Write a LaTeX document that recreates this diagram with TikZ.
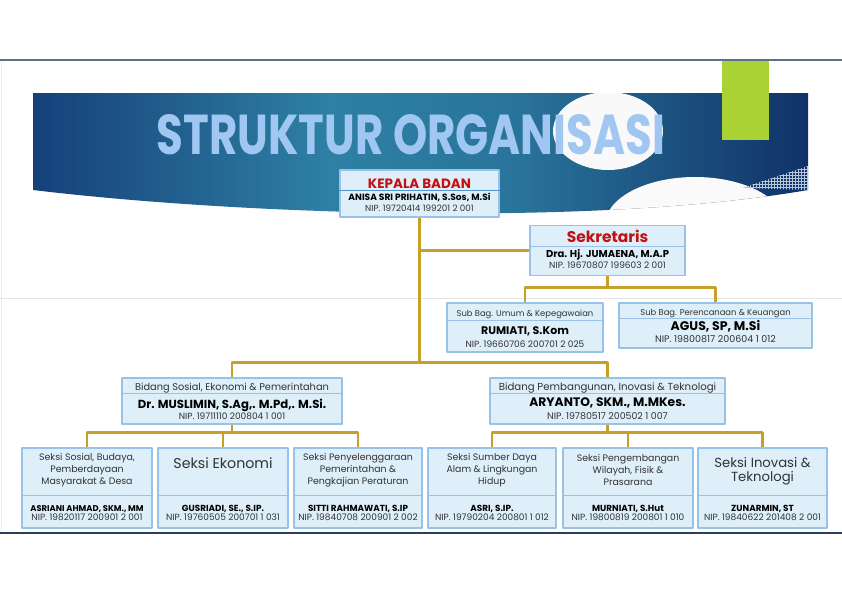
\documentclass[tikz,border=0pt]{standalone}
\usepackage{fontspec}
\usepackage{graphicx}
\setmainfont{Poppins}
\usetikzlibrary{patterns}

\definecolor{emas}{RGB}{198,160,42}
\definecolor{isi}{RGB}{222,239,250}
\definecolor{tepi}{RGB}{152,194,232}
\definecolor{birutepi}{RGB}{84,146,208}
\definecolor{merahtua}{RGB}{196,16,16}
\definecolor{abutua}{RGB}{50,50,50}
\definecolor{judulbiru}{RGB}{160,198,242}
\definecolor{navy}{RGB}{22,64,122}
\definecolor{navyb}{RGB}{16,50,104}
\definecolor{teal}{RGB}{46,128,164}
\definecolor{hijau}{RGB}{170,210,52}
\definecolor{garisatas}{RGB}{92,112,140}
\definecolor{garisbawah}{RGB}{44,62,92}

\pgfdeclarehorizontalshading{spanduk}{100bp}{color(0bp)=(navy); color(25bp)=(navy); color(44bp)=(teal); color(56bp)=(teal!85!navyb); color(75bp)=(navyb); color(100bp)=(navyb)}

\begin{document}
\begin{tikzpicture}[x=1pt,y=-1pt,line join=round,
    kotak/.style={draw=tepi, fill=isi, line width=1.1pt, inner sep=0pt},
    sekat/.style={draw=tepi, line width=1pt},
    konektor/.style={draw=emas, line width=2.3pt},
    teks/.style={inner sep=0pt, anchor=base},
    merah/.style={teks, text=merahtua, font=\fontsize{13.5}{14}\selectfont\bfseries},
    nama/.style={teks, font=\fontsize{8.8}{9}\selectfont\bfseries},
    nip/.style={teks, text=abutua, font=\fontsize{9}{9}\selectfont},
    bagian/.style={teks, text=abutua, font=\fontsize{8.4}{9}\selectfont},
    seksi/.style={inner sep=0pt, align=center, text=abutua, font=\fontsize{9.4}{12}\selectfont},
    seksibesar/.style={inner sep=0pt, align=center, text=abutua, font=\fontsize{13.2}{13.5}\selectfont}]

    % Latar belakang
    \useasboundingbox (0,0) rectangle (842,595);
    \fill[white] (0,0) rectangle (842,595);
    \draw[gray!15, line width=1pt] (1,60) -- (1,533);
    \draw[gray!20, line width=1pt] (0,298) -- (842,298);

    % Spanduk judul
    \shade[shading=spanduk]
      (33,93) -- (808,93) -- (808,190) .. controls (600,226) and (250,216) .. (33,190) -- cycle;
    \begin{scope}
      \clip (33,93) -- (808,93) -- (808,190) .. controls (600,226) and (250,216) .. (33,190) -- cycle;
      \fill[white!95!gray] (608,131) ellipse (55 and 39);
      \fill[white!96!gray] (695,225) ellipse (90 and 48);
      \fill[pattern=grid, pattern color=white!70!navy] (742,188) -- (808,166) -- (808,190) -- cycle;
    \end{scope}
    \fill[hijau] (722,60) rectangle (769,140);
    \draw[garisatas, line width=1.5pt] (0,60) -- (842,60);
    \draw[garisbawah, line width=1.5pt] (0,533) -- (842,533);
    \node[inner sep=0pt, text=judulbiru] (judul) at (411,135)
      {\resizebox{508pt}{40pt}{\bfseries STRUKTUR ORGANISASI}};

    % Kepala Badan
    \node[kotak, minimum width=159, minimum height=47] (kepala) at (419.5,193.5) {};
    \draw[draw=birutepi, line width=1pt] (kepala.west |- 0,190) -- (kepala.east |- 0,190);
    \node[merah] (kepalaJ) at (419.5,188) {KEPALA BADAN};
    \node[nama, font=\fontsize{9.1}{9}\selectfont\bfseries] (kepalaN) at (419.5,200) {ANISA SRI PRIHATIN, S.Sos, M.Si};
    \node[nip, font=\fontsize{8.8}{9}\selectfont] (kepalaP) at (419.5,211) {NIP.\ 19720414 199201 2 001};

    % Sekretaris
    \node[kotak, minimum width=155, minimum height=50] (sek) at (607.5,250.5) {};
    \draw[sekat] (sek.west |- 0,246) -- (sek.east |- 0,246);
    \node[merah, font=\fontsize{15.5}{16}\selectfont\bfseries] (sekJ) at (607.5,242) {Sekretaris};
    \node[nama, font=\fontsize{10}{11}\selectfont\bfseries] (sekN) at (607.5,257) {Dra. Hj. JUMAENA, M.A.P};
    \node[nip] (sekP) at (607.5,268) {NIP. 19670807 199603 2 001};

    % Sub Bagian
    \node[kotak, minimum width=156, minimum height=49] (umum) at (525,327.5) {};
    \draw[sekat] (umum.west |- 0,320) -- (umum.east |- 0,320);
    \node[bagian] (umumJ) at (525,316) {Sub Bag. Umum \& Kepegawaian};
    \node[nama, font=\fontsize{11}{11}\selectfont\bfseries] (umumN) at (525,334) {RUMIATI, S.Kom};
    \node[nip] (umumP) at (525,347) {NIP. 19660706 200701 2 025};

    \node[kotak, minimum width=193, minimum height=45] (renc) at (715.5,325.5) {};
    \draw[sekat] (renc.west |- 0,318) -- (renc.east |- 0,318);
    \node[bagian] (rencJ) at (715.5,315) {Sub Bag. Perencanaan \& Keuangan};
    \node[nama, font=\fontsize{12.5}{13}\selectfont\bfseries] (rencN) at (715.5,330) {AGUS, SP, M.Si};
    \node[nip, font=\fontsize{9.5}{9}\selectfont] (rencP) at (715.5,342) {NIP. 19800817 200604 1 012};

    % Bidang
    \node[kotak, minimum width=220, minimum height=46] (bidsos) at (232,401) {};
    \draw[sekat] (bidsos.west |- 0,393) -- (bidsos.east |- 0,393);
    \node[bagian, font=\fontsize{9.8}{10}\selectfont] (bidsosJ) at (232,390) {Bidang Sosial, Ekonomi \& Pemerintahan};
    \node[nama, font=\fontsize{11.7}{12}\selectfont\bfseries] (bidsosN) at (232,408) {Dr. MUSLIMIN, S.Ag,. M.Pd,. M.Si.};
    \node[nip] (bidsosP) at (232,419) {NIP. 19711110 200804 1 001};

    \node[kotak, minimum width=235, minimum height=46] (bidpem) at (607.5,401) {};
    \draw[sekat] (bidpem.west |- 0,393) -- (bidpem.east |- 0,393);
    \node[bagian, font=\fontsize{10.2}{10}\selectfont] (bidpemJ) at (607.5,390) {Bidang Pembangunan, Inovasi \& Teknologi};
    \node[nama, font=\fontsize{12.3}{12}\selectfont\bfseries] (bidpemN) at (607.5,406.5) {ARYANTO, SKM., M.MKes.};
    \node[nip, font=\fontsize{9.4}{9}\selectfont] (bidpemP) at (607.5,419) {NIP. 19780517 200502 1 007};

    % Seksi-seksi
    \node[kotak, minimum width=130, minimum height=80] (s1) at (87,488) {};
    \node[kotak, minimum width=130, minimum height=80] (s2) at (223,488) {};
    \node[kotak, minimum width=128, minimum height=80] (s3) at (358,488) {};
    \node[kotak, minimum width=128, minimum height=80] (s4) at (492,488) {};
    \node[kotak, minimum width=130, minimum height=80] (s5) at (628,488) {};
    \node[kotak, minimum width=129, minimum height=80] (s6) at (762.5,488) {};
    \foreach \s in {s1,s2,s3,s4,s5,s6}
      \draw[sekat] (\s.west |- 0,495) -- (\s.east |- 0,495);

    \node[seksi] (s1J) at (87,470) {Seksi Sosial, Budaya,\\Pemberdayaan\\Masyarakat \& Desa};
    \node[seksibesar, anchor=base, font=\fontsize{14.2}{14}\selectfont] (s2J) at (223,468) {Seksi Ekonomi};
    \node[seksi] (s3J) at (358,470) {Seksi Penyelenggaraan\\Pemerintahan \&\\Pengkajian Peraturan};
    \node[seksi] (s4J) at (492,470) {Seksi Sumber Daya\\Alam \& Lingkungan\\Hidup};
    \node[seksi] (s5J) at (628,470) {Seksi Pengembangan\\Wilayah, Fisik \&\\Prasarana};
    \node[seksibesar] (s6J) at (762.5,471) {Seksi Inovasi \&\\Teknologi};

    \node[nama, font=\fontsize{8.4}{8}\selectfont\bfseries] (s1N) at (87,511) {ASRIANI AHMAD, SKM., MM};
    \node[nama] (s2N) at (223,511) {GUSRIADI, SE., S.IP.};
    \node[nama] (s3N) at (358,511) {SITTI RAHMAWATI, S.IP};
    \node[nama] (s4N) at (492,511) {ASRI, S.IP.};
    \node[nama] (s5N) at (628,511) {MURNIATI, S.Hut};
    \node[nama] (s6N) at (762.5,511) {ZUNARMIN, ST};

    \node[nip] (s1P) at (87,520.5) {NIP. 19820117 200901 2 001};
    \node[nip] (s2P) at (223,520.5) {NIP. 19760505 200701 1 031};
    \node[nip] (s3P) at (358,520.5) {NIP. 19840708 200901 2 002};
    \node[nip] (s4P) at (492,520.5) {NIP. 19790204 200801 1 012};
    \node[nip] (s5P) at (628,520.5) {NIP. 19800819 200801 1 010};
    \node[nip] (s6P) at (762.5,520.5) {NIP. 19840622 201408 2 001};

    % Garis penghubung
    \draw[konektor] (kepala.south) -- (kepala.south |- 0,363);
    \draw[konektor] (kepala.south |- sek.west) -- (sek.west);
    \draw[konektor] (sek.south) -- ++(0,13);
    \draw[konektor] (umum.north) -- ++(0,-15) -| (renc.north);
    \draw[konektor] (bidsos.north) -- ++(0,-15) -| (bidpem.north);
    \draw[konektor] (bidsos.south) -- ++(0,9);
    \draw[konektor] (bidpem.south) -- ++(0,9);
    \draw[konektor] (s1.north) -- ++(0,-15) -| (s3.north);
    \draw[konektor] (s2.north) -- ++(0,-15);
    \draw[konektor] (s4.north) -- ++(0,-15) -| (s6.north);
    \draw[konektor] (s5.north) -- ++(0,-15);

\end{tikzpicture}
\end{document}
